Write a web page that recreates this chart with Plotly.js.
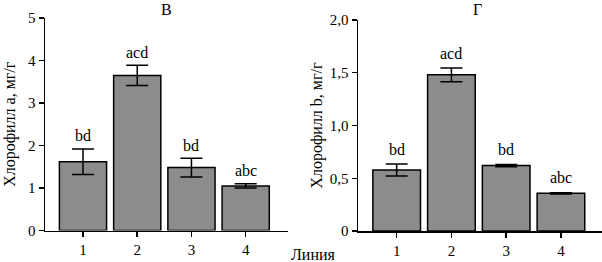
<!DOCTYPE html>
<html>
<head>
<meta charset="utf-8">
<script src="https://cdn.plot.ly/plotly-3.0.1.min.js"></script>
<style>html,body{margin:0;padding:0;background:#fff;}</style>
</head>
<body>
<div id="chart" style="width:602px;height:262px;"></div>
<script>
const categories = ['1', '2', '3', '4'];
const chlA = [1.62, 3.65, 1.48, 1.05];
const chlAErr = [0.30, 0.24, 0.22, 0.05];
const chlALetters = ['bd', 'acd', 'bd', 'abc'];
const chlB = [0.578, 1.48, 0.62, 0.357];
const chlBErr = [0.057, 0.065, 0.01, 0.006];
const chlBLetters = ['bd', 'acd', 'bd', 'abc'];
const yTickValsB = [0, 0.5, 1, 1.5, 2];
const yTickTextB = ['0', '0,5', '1,0', '1,5', '2,0'];

const FONT = 'Liberation Serif, Times New Roman, serif';
const barStyle = {color: '#8c8c8c', line: {color: '#000', width: 1.5}};
const errStyle = (arr) => ({type: 'data', array: arr, visible: true, color: '#000', thickness: 1.5, width: 11});

const traces = [
  {type: 'bar', x: categories, y: chlA, error_y: errStyle(chlAErr), marker: barStyle, width: 0.87, xaxis: 'x', yaxis: 'y', hoverinfo: 'none'},
  {type: 'bar', x: categories, y: chlB, error_y: errStyle(chlBErr), marker: barStyle, width: 0.87, xaxis: 'x2', yaxis: 'y2', hoverinfo: 'none'}
];

const annotations = [];
categories.forEach((c, i) => {
  annotations.push({x: i, y: chlA[i] + chlAErr[i], xref: 'x', yref: 'y', text: chlALetters[i], showarrow: false, yanchor: 'middle', yshift: 13, font: {family: FONT, size: 16, color: '#000'}});
  annotations.push({x: i, y: chlB[i] + chlBErr[i], xref: 'x2', yref: 'y2', text: chlBLetters[i], showarrow: false, yanchor: 'middle', yshift: 15, font: {family: FONT, size: 16, color: '#000'}});
});
annotations.push({x: 0.2766, y: 1, xref: 'paper', yref: 'paper', text: 'В', showarrow: false, xanchor: 'center', yanchor: 'top', borderpad: 0, font: {family: FONT, size: 16, color: '#000'}});
annotations.push({x: 0.7924, y: 1, xref: 'paper', yref: 'paper', text: 'Г', showarrow: false, xanchor: 'center', yanchor: 'top', borderpad: 0, font: {family: FONT, size: 16, color: '#000'}});
annotations.push({x: 0.52, y: 0.027, xref: 'paper', yref: 'paper', text: 'Линия', showarrow: false, xanchor: 'center', yanchor: 'middle', font: {family: FONT, size: 16, color: '#000'}});

const axisCommon = {showgrid: false, zeroline: false, showline: true, linecolor: '#000', linewidth: 1.5, ticks: 'outside', ticklen: 5, tickwidth: 1.5, tickcolor: '#000', tickfont: {family: FONT, size: 15, color: '#000'}};

const layout = {
  width: 602, height: 262,
  margin: {l: 0, r: 0, t: 0, b: 0},
  paper_bgcolor: '#fff', plot_bgcolor: '#fff',
  showlegend: false,
  font: {family: FONT, color: '#000'},
  xaxis: Object.assign({}, axisCommon, {domain: [0.0748, 0.4784], range: [-0.70, 3.78], anchor: 'y', type: 'category'}),
  yaxis: Object.assign({}, axisCommon, {domain: [0.1202, 0.9313], range: [0, 5], dtick: 1, anchor: 'x',
    title: {text: 'Хлорофилл a, мг/г', font: {family: FONT, size: 16, color: '#000'}, standoff: 8}}),
  xaxis2: Object.assign({}, axisCommon, {domain: [0.5947, 1.0], range: [-0.706, 3.75], anchor: 'y2', type: 'category'}),
  yaxis2: Object.assign({}, axisCommon, {domain: [0.1183, 0.9237], range: [0, 2], tickvals: yTickValsB, ticktext: yTickTextB, anchor: 'x2',
    title: {text: 'Хлорофилл b, мг/г', font: {family: FONT, size: 16, color: '#000'}, standoff: 3}}),
  annotations: annotations
};

Plotly.newPlot('chart', traces, layout, {staticPlot: true, displayModeBar: false});
</script>
</body>
</html>
